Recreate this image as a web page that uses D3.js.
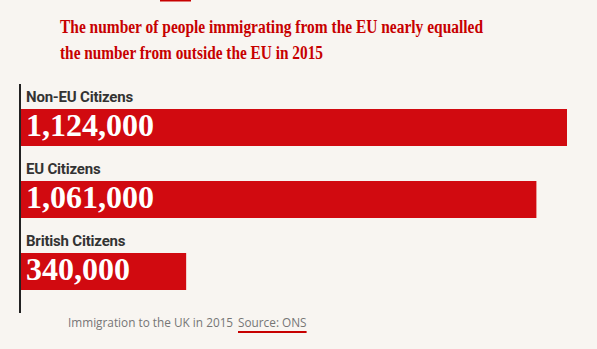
<!DOCTYPE html>
<html>
<head>
<meta charset="utf-8">
<script src="https://cdn.jsdelivr.net/npm/d3@7"></script>
<style>
  body { margin: 0; background: #f8f5f1; }
  svg { display: block; }
</style>
</head>
<body>
<svg id="chart" width="597" height="349"></svg>
<script>
const categories = ["Non-EU Citizens", "EU Citizens", "British Citizens"];
const values = [1124000, 1061000, 340000];
const titleLines = [
  "The number of people immigrating from the EU nearly equalled",
  "the number from outside the EU in 2015"
];
const caption = "Immigration to the UK in 2015";
const source = "Source: ONS";

const svg = d3.select("#chart");
const red = "#d10a10";
const margin = {left: 21, right: 30};

svg.append("rect")
    .attr("width", 597).attr("height", 349)
    .attr("fill", "#f8f5f1");

// small red tab at the top
svg.append("rect")
    .attr("x", 160).attr("y", 0)
    .attr("width", 31).attr("height", 1.5)
    .attr("fill", "#c70000");

// headline, squeezed to the narrow serif width
const titleWidths = [423, 263];
svg.append("g").selectAll("text")
  .data(titleLines)
  .enter().append("text")
    .attr("x", 60)
    .attr("y", (d, i) => 33 + i * 26)
    .attr("fill", "#c70000")
    .attr("font-family", "'Liberation Serif', serif")
    .attr("font-weight", "bold")
    .attr("font-size", 18)
    .attr("textLength", (d, i) => titleWidths[i])
    .attr("lengthAdjust", "spacingAndGlyphs")
    .text(d => d);

const x = d3.scaleLinear()
    .domain([0, 1124000])
    .range([0, 567 - margin.left]);

const y = d3.scaleBand()
    .domain(categories)
    .range([84, 300])
    .paddingInner(0);

const g = svg.append("g")
    .attr("transform", "translate(" + margin.left + ",0)");

const rows = g.selectAll(".row")
  .data(categories)
  .enter().append("g")
    .attr("class", "row")
    .attr("transform", d => "translate(0," + y(d) + ")");

rows.append("text")
    .attr("x", 5)
    .attr("y", 18)
    .attr("fill", "#333")
    .attr("font-family", "Roboto, sans-serif")
    .attr("font-weight", "bold")
    .attr("font-size", 15)
    .attr("letter-spacing", -0.2)
    .text(d => d);

rows.append("rect")
    .attr("class", "bar")
    .attr("x", 0)
    .attr("y", 25)
    .attr("width", (d, i) => x(values[i]))
    .attr("height", 37)
    .attr("fill", red);

rows.append("text")
    .attr("x", 5)
    .attr("y", 52)
    .attr("fill", "#fff")
    .attr("font-family", "'Liberation Serif', serif")
    .attr("font-weight", "bold")
    .attr("font-size", 32)
    .text((d, i) => d3.format(",")(values[i]));

// vertical axis line
svg.append("line")
    .attr("x1", 20).attr("x2", 20)
    .attr("y1", 84).attr("y2", 313)
    .attr("stroke", "#222")
    .attr("stroke-width", 2);

// footer
svg.append("text")
    .attr("x", 68).attr("y", 327)
    .attr("fill", "#767676")
    .attr("font-family", "'Open Sans', sans-serif")
    .attr("font-size", 11.8)
    .text(caption);

const src = svg.append("text")
    .attr("x", 238).attr("y", 327)
    .attr("fill", "#767676")
    .attr("font-family", "'Open Sans', sans-serif")
    .attr("font-size", 11.8)
    .text(source);

const w = src.node().getComputedTextLength();
svg.append("rect")
    .attr("x", 238).attr("y", 331)
    .attr("width", w).attr("height", 2)
    .attr("fill", "#c70000");
</script>
</body>
</html>
